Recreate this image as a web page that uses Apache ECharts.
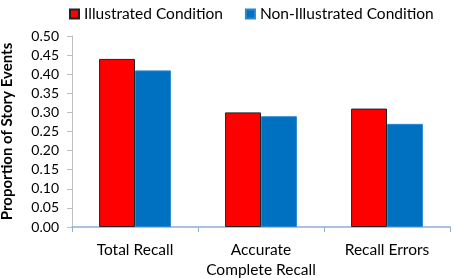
<!DOCTYPE html>
<html>
<head>
<meta charset="utf-8">
<script src="https://cdn.jsdelivr.net/npm/echarts@6/dist/echarts.min.js"></script>
<style>
  html, body { margin: 0; padding: 0; background: #fff; }
  #chart { width: 454px; height: 278px; }
</style>
</head>
<body>
<div id="chart"></div>
<script>
const categories = ["Total Recall", "Accurate\nComplete Recall", "Recall Errors"];
const illustrated = [0.44, 0.30, 0.31];
const nonIllustrated = [0.41, 0.29, 0.27];
const font = "Lato, 'Open Sans', sans-serif";

const chart = echarts.init(document.getElementById("chart"));
chart.setOption({
  animation: false,
  textStyle: { fontFamily: font },
  legend: {
    top: 1,
    left: 64,
    itemWidth: 9,
    itemHeight: 9,
    itemGap: 22,
    icon: "rect",
    textStyle: { fontSize: 15.5, color: "#000", fontFamily: font },
    data: ["Illustrated Condition", "Non-Illustrated Condition"]
  },
  grid: { left: 72, right: 4, top: 36, bottom: 51, outerBoundsMode: "none" },
  xAxis: {
    type: "category",
    data: categories,
    axisLine: { lineStyle: { color: "#8eaed6", width: 1.5 } },
    axisTick: { show: true, length: 5, lineStyle: { color: "#8eaed6" } },
    axisLabel: { interval: 0, fontSize: 15.5, color: "#000", margin: 13, lineHeight: 20, fontFamily: font }
  },
  yAxis: {
    type: "value",
    min: 0,
    max: 0.5,
    interval: 0.05,
    name: "Proportion of Story Events",
    nameLocation: "middle",
    nameGap: 57,
    nameTextStyle: { fontSize: 15, fontWeight: "bold", color: "#000", fontFamily: font },
    axisLine: { show: true, lineStyle: { color: "#bfbfbf" } },
    axisTick: { show: true, length: 5, lineStyle: { color: "#bfbfbf" } },
    splitLine: { show: false },
    axisLabel: {
      fontSize: 14, color: "#000", margin: 13, fontFamily: font,
      formatter: (v) => v.toFixed(2)
    }
  },
  series: [
    {
      name: "Illustrated Condition",
      type: "bar",
      data: illustrated,
      barGap: "0%",
      barCategoryGap: "43%",
      itemStyle: { color: "#ff0000", borderColor: "#222", borderWidth: 1 }
    },
    {
      name: "Non-Illustrated Condition",
      type: "bar",
      data: nonIllustrated,
      itemStyle: { color: "#0070c0", borderColor: "#2e86d0", borderWidth: 1 }
    }
  ]
});
</script>
</body>
</html>
